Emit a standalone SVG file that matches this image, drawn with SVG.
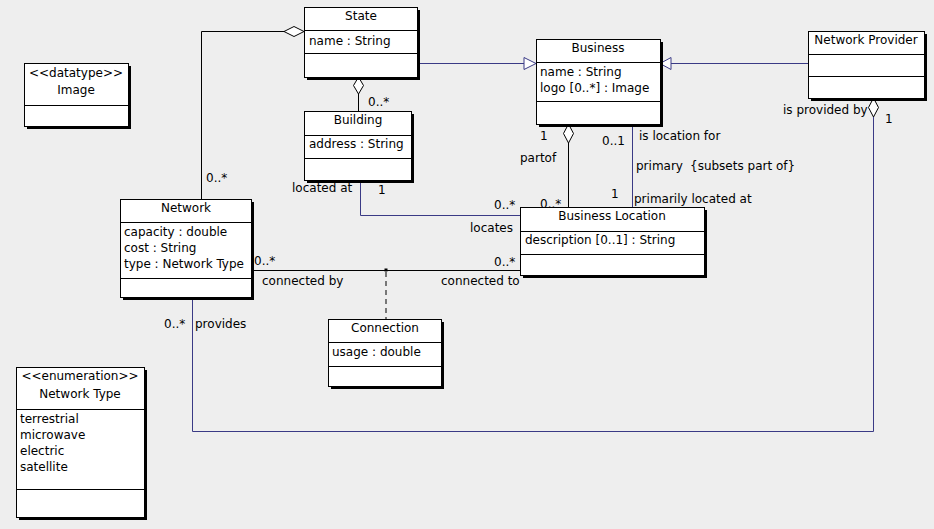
<svg xmlns="http://www.w3.org/2000/svg" width="934" height="529" viewBox="0 0 934 529">
  <defs>
    <style>
      text { font-family: "DejaVu Sans", "Liberation Sans", sans-serif; font-size: 12px; font-weight: normal; fill: #000; }
      .ctr { text-anchor: middle; font-weight: normal; }
      .shadow { fill: #000; }
      .box { fill: #fff; stroke: #000; stroke-width: 1; }
      .div { stroke: #000; stroke-width: 1; }
      .blk { fill: none; stroke: #000; stroke-width: 1; }
      .blu { fill: none; stroke: #3a3a85; stroke-width: 1; }
      .dash { fill: none; stroke: #000; stroke-width: 1; stroke-dasharray: 5 4; }
      .dia { fill: #fff; stroke: #000; stroke-width: 1; }
      .tri { fill: #fff; stroke: #3a3a85; stroke-width: 1; }
    </style>
  </defs>
  <rect width="934" height="529" fill="#eeeeee"/>

  <!-- connectors -->
  <g id="connectors">
    <!-- State aggregates Network -->
    <polyline class="blk" points="284.5,31.5 201.5,31.5 201.5,199"/>
    <polygon class="dia" points="304,31.5 294,26.5 284,31.5 294,36.5"/>
    <!-- State aggregates Building -->
    <line class="blk" x1="358.5" y1="94" x2="358.5" y2="111"/>
    <polygon class="dia" points="358.5,77 353.5,85.5 358.5,94 363.5,85.5"/>
    <!-- State generalizes to Business -->
    <line class="blu" x1="417" y1="63.5" x2="524" y2="63.5"/>
    <polygon class="tri" points="536,63.5 524,57.5 524,69.5"/>
    <!-- Network Provider generalizes to Business -->
    <line class="blu" x1="671" y1="63.5" x2="808" y2="63.5"/>
    <polygon class="tri" points="660,63.5 671,57.5 671,69.5"/>
    <!-- Business aggregates Business Location -->
    <line class="blk" x1="568.5" y1="143" x2="568.5" y2="207"/>
    <polygon class="dia" points="568.5,124 563.5,133.5 568.5,143 573.5,133.5"/>
    <!-- primary location -->
    <line class="blu" x1="632.5" y1="124" x2="632.5" y2="207"/>
    <!-- Building locates Business Location -->
    <polyline class="blu" points="360.5,180 360.5,215.5 521,215.5"/>
    <!-- Network connected to Business Location -->
    <line class="blk" x1="252" y1="270.5" x2="521" y2="270.5"/>
    <rect x="384.5" y="268.5" width="3" height="3" fill="#000"/>
    <line class="dash" x1="386" y1="272" x2="386" y2="319"/>
    <!-- Network Provider provides Network -->
    <polyline class="blu" points="873.5,117 873.5,431.5 192.5,431.5 192.5,298"/>
    <polygon class="dia" points="873.5,98 868.5,107.5 873.5,117 878.5,107.5"/>
  </g>

  <!-- association labels -->
  <g id="labels">
    <text x="206" y="182">0..*</text>
    <text x="368" y="106">0..*</text>
    <text x="292" y="192">located at</text>
    <text x="378" y="194">1</text>
    <text x="494" y="209">0..*</text>
    <text x="470" y="232">locates</text>
    <text x="540" y="140">1</text>
    <text x="602" y="145">0..1</text>
    <text x="520" y="162">partof</text>
    <text x="639" y="140">is location for</text>
    <text x="636" y="170">primary</text>
    <text x="690" y="170">{subsets part of}</text>
    <text x="540" y="208">0..*</text>
    <text x="611" y="198">1</text>
    <text x="634" y="203">primarily located at</text>
    <text x="254" y="265">0..*</text>
    <text x="262" y="285">connected by</text>
    <text x="494" y="266">0..*</text>
    <text x="441" y="285">connected to</text>
    <text x="164" y="328">0..*</text>
    <text x="195" y="328">provides</text>
    <text x="783" y="114">is provided by</text>
    <text x="885" y="123">1</text>
  </g>

  <!-- classes -->
  <g id="state">
    <rect class="shadow" x="307" y="10" width="113" height="70"/>
    <rect class="box" x="304.5" y="7.5" width="113" height="70"/>
    <line class="div" x1="304.5" y1="30.5" x2="417.5" y2="30.5"/>
    <line class="div" x1="304.5" y1="53.5" x2="417.5" y2="53.5"/>
    <text class="ctr" x="361" y="20">State</text>
    <text x="309" y="45">name : String</text>
  </g>

  <g id="building">
    <rect class="shadow" x="307" y="114" width="107" height="69"/>
    <rect class="box" x="304.5" y="111.5" width="107" height="69"/>
    <line class="div" x1="304.5" y1="135.5" x2="411.5" y2="135.5"/>
    <line class="div" x1="304.5" y1="158.5" x2="411.5" y2="158.5"/>
    <text class="ctr" x="358" y="124">Building</text>
    <text x="309" y="148">address : String</text>
  </g>

  <g id="business">
    <rect class="shadow" x="539" y="42" width="124" height="85"/>
    <rect class="box" x="536.5" y="39.5" width="124" height="85"/>
    <line class="div" x1="536.5" y1="62.5" x2="660.5" y2="62.5"/>
    <line class="div" x1="536.5" y1="101.5" x2="660.5" y2="101.5"/>
    <text class="ctr" x="598" y="52">Business</text>
    <text x="540" y="76">name : String</text>
    <text x="540" y="92">logo [0..*] : Image</text>
  </g>

  <g id="network-provider">
    <rect class="shadow" x="811" y="34" width="116" height="67"/>
    <rect class="box" x="808.5" y="31.5" width="116" height="67"/>
    <line class="div" x1="808.5" y1="54.5" x2="924.5" y2="54.5"/>
    <line class="div" x1="808.5" y1="76.5" x2="924.5" y2="76.5"/>
    <text class="ctr" x="866" y="44">Network Provider</text>
  </g>

  <g id="business-location">
    <rect class="shadow" x="523" y="210" width="184" height="68"/>
    <rect class="box" x="520.5" y="207.5" width="184" height="68"/>
    <line class="div" x1="520.5" y1="231.5" x2="704.5" y2="231.5"/>
    <line class="div" x1="520.5" y1="254.5" x2="704.5" y2="254.5"/>
    <text class="ctr" x="612" y="220">Business Location</text>
    <text x="525" y="244">description [0..1] : String</text>
  </g>

  <g id="network">
    <rect class="shadow" x="123" y="202" width="131" height="98"/>
    <rect class="box" x="120.5" y="199.5" width="131" height="98"/>
    <line class="div" x1="120.5" y1="222.5" x2="251.5" y2="222.5"/>
    <line class="div" x1="120.5" y1="278.5" x2="251.5" y2="278.5"/>
    <text class="ctr" x="186" y="212">Network</text>
    <text x="124" y="236">capacity : double</text>
    <text x="124" y="252">cost : String</text>
    <text x="124" y="268">type : Network Type</text>
  </g>

  <g id="connection">
    <rect class="shadow" x="331" y="322" width="113" height="67"/>
    <rect class="box" x="328.5" y="319.5" width="113" height="67"/>
    <line class="div" x1="328.5" y1="342.5" x2="441.5" y2="342.5"/>
    <line class="div" x1="328.5" y1="366.5" x2="441.5" y2="366.5"/>
    <text class="ctr" x="385" y="332">Connection</text>
    <text x="332" y="356">usage : double</text>
  </g>

  <g id="image">
    <rect class="shadow" x="27" y="66" width="104" height="63"/>
    <rect class="box" x="24.5" y="63.5" width="104" height="63"/>
    <line class="div" x1="24.5" y1="105.5" x2="128.5" y2="105.5"/>
    <text class="ctr" x="76" y="77">&lt;&lt;datatype&gt;&gt;</text>
    <text class="ctr" x="76" y="94">Image</text>
  </g>

  <g id="network-type">
    <rect class="shadow" x="19" y="370" width="128" height="150"/>
    <rect class="box" x="16.5" y="367.5" width="128" height="150"/>
    <line class="div" x1="16.5" y1="409.5" x2="144.5" y2="409.5"/>
    <line class="div" x1="16.5" y1="489.5" x2="144.5" y2="489.5"/>
    <text class="ctr" x="80" y="380">&lt;&lt;enumeration&gt;&gt;</text>
    <text class="ctr" x="80" y="398">Network Type</text>
    <text x="20" y="423">terrestrial</text>
    <text x="20" y="439">microwave</text>
    <text x="20" y="455">electric</text>
    <text x="20" y="471">satellite</text>
  </g>
</svg>
